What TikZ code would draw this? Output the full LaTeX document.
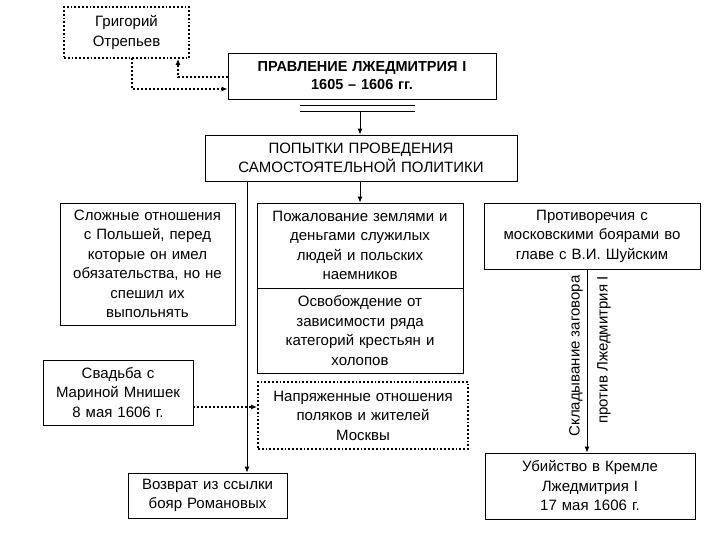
\documentclass[tikz,border=0pt]{standalone}
\usepackage{fontspec}
\setmainfont{Liberation Sans}
\usetikzlibrary{arrows.meta}
\begin{document}
\begin{tikzpicture}[x=1pt,y=-1pt,
  box/.style={draw,line width=0.8pt,align=center,inner sep=0pt,font=\fontsize{15}{19.5}\selectfont},
  dotbox/.style={box,line width=1.8pt,dotted},
  arr/.style={line width=1pt,-{Latex[length=6pt,width=5pt]}},
  dotarr/.style={line width=2pt,dotted,-{Latex[length=6pt,width=5pt]}}]
\useasboundingbox (0,0) rectangle (720,540);
\node[dotbox,minimum width=125,minimum height=51,text width=120] (grig) at (126.5,32.5) {Григорий\\Отрепьев};
\node[box,minimum width=268,minimum height=46,text width=260,font=\bfseries\fontsize{14.5}{18}\selectfont] (prav) at (362,76) {ПРАВЛЕНИЕ ЛЖЕДМИТРИЯ I\\1605 – 1606 гг.};
\coordinate (d1l) at (300,105); \coordinate (d1r) at (415,105);
\coordinate (d2l) at (300,111); \coordinate (d2r) at (415,111);
\draw[line width=0.8pt] (d1l) -- (d1r);
\draw[line width=0.8pt] (d2l) -- (d2r);
\node[box,minimum width=312,minimum height=46,text width=305] (pop) at (361,158) {ПОПЫТКИ ПРОВЕДЕНИЯ\\САМОСТОЯТЕЛЬНОЙ ПОЛИТИКИ};
\coordinate (dm) at (360,111);
\draw[arr] (dm) -- (dm |- pop.north);
\node[box,minimum width=175,minimum height=122,text width=172] (slozh) at (147.5,264) {Сложные отношения\\с Польшей, перед\\которые он имел\\обязательства, но не\\спешил их\\выпольнять};
\node[box,minimum width=206,minimum height=85,text width=200] (pozh) at (360,245.5) {Пожалование землями и\\деньгами служилых\\людей и польских\\наемников};
\node[box,minimum width=206,minimum height=85,text width=200] (osv) at (360,330.5) {Освобождение от\\зависимости ряда\\категорий крестьян и\\холопов};
\node[dotbox,minimum width=210,minimum height=67,text width=205] (napr) at (363,415.5) {Напряженные отношения\\поляков и жителей\\Москвы};
\node[box,minimum width=150,minimum height=65,text width=146] (svad) at (118,392.5) {Свадьба с\\Мариной Мнишек\\8 мая 1606 г.};
\node[box,minimum width=159,minimum height=45,text width=155] (vozv) at (207.5,495.5) {Возврат из ссылки\\бояр Романовых};
\node[box,minimum width=216,minimum height=66,text width=212] (prot) at (592,236) {Противоречия с\\московскими боярами во\\главе с В.И. Шуйским};
\node[box,minimum width=210,minimum height=66,text width=205] (ubiy) at (590,486) {Убийство в Кремле\\Лжедмитрия I\\17 мая 1606 г.};
% connectors
\coordinate (pa) at (360,181);
\draw[arr] (pa) -- (pa |- pozh.north);
\coordinate (pb) at (247,181);
\draw[arr] (pb) -- (pb |- vozv.north);
\coordinate (pc) at (587,269);
\draw[arr] (pc) -- (pc |- ubiy.north);
\draw[dotarr] (svad.east |- 0,407) -- (napr.west |- 0,407);
\coordinate (g1) at (132,58);
\coordinate (g2) at (132,89);
\draw[dotarr] (g1) -- (g2) -- (g2 -| prav.west);
\coordinate (g3) at (178,77);
\draw[dotarr] (g3 -| prav.west) -- (g3) -- (g3 |- grig.south);
\node[rotate=90,font=\fontsize{15}{19}\selectfont,inner sep=0pt] (lab1) at (576,356) {Складывание заговора};
\node[rotate=90,font=\fontsize{15}{19}\selectfont,inner sep=0pt] (lab2) at (604,350) {против Лжедмитрия I};
\end{tikzpicture}
\end{document}
